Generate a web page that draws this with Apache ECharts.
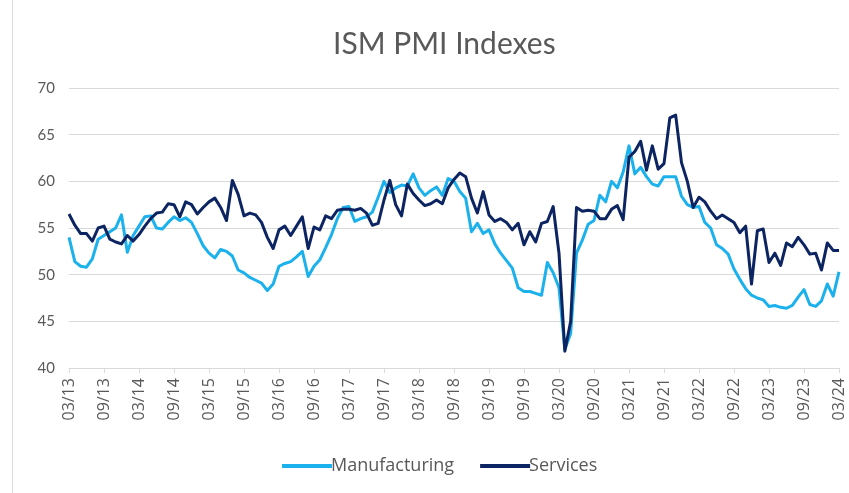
<!DOCTYPE html>
<html>
<head>
<meta charset="utf-8">
<script src="https://cdn.jsdelivr.net/npm/echarts@6/dist/echarts.min.js"></script>
<style>
  html, body { margin: 0; padding: 0; background: #fff; }
  #chart { width: 849px; height: 493px; }
</style>
</head>
<body>
<div id="chart"></div>
<script>
// months 03/13 .. 03/24
const months = [];
for (let y = 13; y <= 24; y++) {
  for (let m = 1; m <= 12; m++) {
    if ((y === 13 && m < 3) || (y === 24 && m > 3)) continue;
    months.push(String(m).padStart(2, '0') + '/' + y);
  }
}

const manufacturing = [
  54.0, 51.4, 50.9, 50.8, 51.7, 53.8, 54.2, 54.6, 55.0, 56.4,
  52.4, 54.2, 55.2, 56.2, 56.3, 55.0, 54.9, 55.6, 56.2, 55.8,
  56.1, 55.6, 54.4, 53.1, 52.3, 51.8, 52.7, 52.5, 52.0, 50.5,
  50.2, 49.7, 49.4, 49.1, 48.3, 49.0, 50.9, 51.2, 51.4, 51.9,
  52.5, 49.8, 50.9, 51.6, 52.9, 54.3, 56.0, 57.2, 57.3, 55.7,
  56.0, 56.2, 56.7, 58.3, 60.0, 58.8, 59.3, 59.6, 59.5, 60.8,
  59.3, 58.5, 59.0, 59.4, 58.5, 60.3, 60.0, 58.9, 58.2, 54.6,
  55.5, 54.4, 54.8, 53.3, 52.3, 51.5, 50.7, 48.6, 48.2, 48.2,
  48.0, 47.8, 51.3, 50.2, 48.6, 42.0, 43.7, 52.3, 53.7, 55.4,
  55.8, 58.5, 57.8, 60.0, 59.3, 61.0, 63.8, 60.8, 61.5, 60.5,
  59.7, 59.5, 60.5, 60.5, 60.5, 58.4, 57.5, 57.2, 57.3, 55.6,
  55.0, 53.2, 52.8, 52.2, 50.6, 49.5, 48.5, 47.8, 47.5, 47.3,
  46.6, 46.7, 46.5, 46.4, 46.7, 47.6, 48.4, 46.8, 46.6, 47.2,
  49.0, 47.7, 50.3
];

const services = [
  56.5, 55.3, 54.4, 54.4, 53.6, 55.0, 55.2, 53.8, 53.5, 53.3,
  54.2, 53.6, 54.3, 55.2, 56.0, 56.6, 56.7, 57.6, 57.5, 56.2,
  57.8, 57.5, 56.5, 57.2, 57.8, 58.2, 57.2, 55.8, 60.1, 58.6,
  56.3, 56.6, 56.4, 55.6, 54.0, 52.8, 54.8, 55.2, 54.2, 55.2,
  56.2, 52.8, 55.1, 54.8, 56.3, 56.0, 56.9, 57.0, 57.0, 56.9,
  57.1, 56.6, 55.3, 55.5, 58.0, 60.1, 57.5, 56.3, 59.7, 58.7,
  58.0, 57.4, 57.6, 58.0, 57.6, 59.3, 60.2, 60.9, 60.5, 58.2,
  56.6, 58.9, 56.4, 55.7, 56.0, 55.6, 54.8, 55.5, 53.2, 54.6,
  53.5, 55.5, 55.7, 57.3, 52.3, 41.8, 45.0, 57.2, 56.8, 56.9,
  56.8, 56.0, 56.0, 57.0, 57.4, 55.9, 62.6, 63.2, 64.3, 61.2,
  63.8, 61.3, 61.9, 66.8, 67.1, 62.0, 60.0, 57.2, 58.3, 57.8,
  56.8, 56.0, 56.4, 56.0, 55.6, 54.5, 55.2, 49.0, 54.7, 54.9,
  51.3, 52.3, 51.0, 53.4, 53.0, 54.0, 53.2, 52.2, 52.3, 50.5,
  53.4, 52.6, 52.6
];

const seriesNames = ['Manufacturing', 'Services'];
const seriesColors = ['#1bb1ec', '#0c2461'];
const yTicks = { min: 40, max: 70, step: 5 };

const textColor = '#595959';
const gridColor = '#d9d9d9';
const font = 'Lato, "Open Sans", sans-serif';
const wideFont = '"Open Sans", Lato, sans-serif';

const chart = echarts.init(document.getElementById('chart'), null, { renderer: 'canvas' });

const option = {
  backgroundColor: '#fff',
  animation: false,
  title: {
    text: 'ISM PMI Indexes',
    left: 328,
    top: 24,
    textStyle: { color: textColor, fontFamily: font, fontSize: 30, fontWeight: 'normal' }
  },
  legend: {
    bottom: 13,
    left: 277,
    icon: 'rect',
    itemWidth: 50,
    itemHeight: 4,
    itemGap: 26,
    textStyle: { color: textColor, fontFamily: wideFont, fontSize: 18, padding: [0, 0, 0, -6] },
    data: seriesNames
  },
  grid: { left: 69, right: 10, top: 88, bottom: 125, containLabel: false },
  xAxis: {
    type: 'category',
    data: months,
    boundaryGap: false,
    axisLine: { lineStyle: { color: gridColor, width: 1 } },
    axisTick: { show: true, interval: 5, length: 5, lineStyle: { color: gridColor } },
    axisLabel: {
      interval: 5,
      rotate: 90,
      color: textColor,
      fontFamily: wideFont,
      fontSize: 16,
      margin: 10
    },
    splitLine: { show: false }
  },
  yAxis: {
    type: 'value',
    min: yTicks.min,
    max: yTicks.max,
    interval: yTicks.step,
    axisLine: { show: false },
    axisTick: { show: false },
    axisLabel: { color: textColor, fontFamily: font, fontSize: 15, margin: 14 },
    splitLine: { lineStyle: { color: gridColor, width: 1 } }
  },
  graphic: [{
    type: 'line',
    shape: { x1: 12.5, y1: 0, x2: 12.5, y2: 493 },
    style: { stroke: gridColor, lineWidth: 1 }
  }],
  series: seriesNames.map((name, k) => ({
    name,
    type: 'line',
    data: k === 0 ? manufacturing : services,
    showSymbol: false,
    symbol: 'none',
    lineStyle: { color: seriesColors[k], width: 3, join: 'round' },
    itemStyle: { color: seriesColors[k] },
    z: k === 0 ? 2 : 3
  }))
};

chart.setOption(option);
</script>
</body>
</html>
